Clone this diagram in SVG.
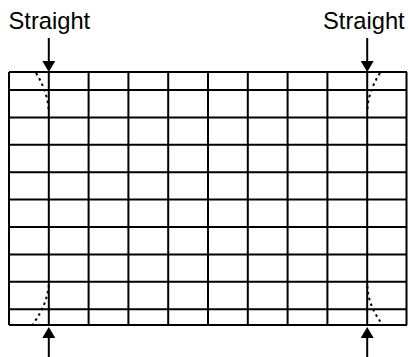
<svg xmlns="http://www.w3.org/2000/svg" width="408" height="357" viewBox="0 0 408 357">
<style>
.grid{fill:none;stroke:#000;stroke-width:2}
.dot{fill:none;stroke:#000;stroke-width:2;stroke-dasharray:2.5,3.5}
.arr{stroke:#000;stroke-width:2;fill:none}
.lbl{font-family:"Liberation Sans",Arial,sans-serif;font-size:23.7px;fill:#000}
</style>
<rect width="408" height="357" fill="#fff"/>
<g id="grid">
<path class="grid" d="M9,72H407M9,90H407M9,117.4H407M9,144.8H407M9,172.2H407M9,199.6H407M9,227H407M9,254.4H407M9,281.8H407M9,309.2H407M9,325H407
M9,72V325M48.8,72V325M88.6,72V325M128.4,72V325M168.2,72V325M208,72V325M247.8,72V325M287.6,72V325M327.4,72V325M367.2,72V325M406.5,72V325"/>
</g>
<g id="curves">
<path class="dot" d="M36,73 Q48,92 48.8,112"/>
<path class="dot" d="M48.8,285 Q47,305 33,324"/>
<path class="dot" d="M380,73 Q368,92 367.4,110"/>
<path class="dot" d="M367.4,286 Q368,305 382,324"/>
</g>
<g id="labels">
<text class="lbl" x="8.5" y="29">Straight</text>
<text class="lbl" x="323" y="29">Straight</text>
</g>
<g id="connectors">
<line class="arr" x1="48.8" y1="38" x2="48.8" y2="63"/>
<polygon points="42.3,61 55.3,61 48.8,72" fill="#000"/>
<line class="arr" x1="367.2" y1="38" x2="367.2" y2="63"/>
<polygon points="360.7,61 373.7,61 367.2,72" fill="#000"/>
<line class="arr" x1="48.8" y1="336" x2="48.8" y2="357"/>
<polygon points="42.3,338 55.3,338 48.8,327" fill="#000"/>
<line class="arr" x1="367.2" y1="336" x2="367.2" y2="357"/>
<polygon points="360.7,338 373.7,338 367.2,327" fill="#000"/>
</g>
</svg>
